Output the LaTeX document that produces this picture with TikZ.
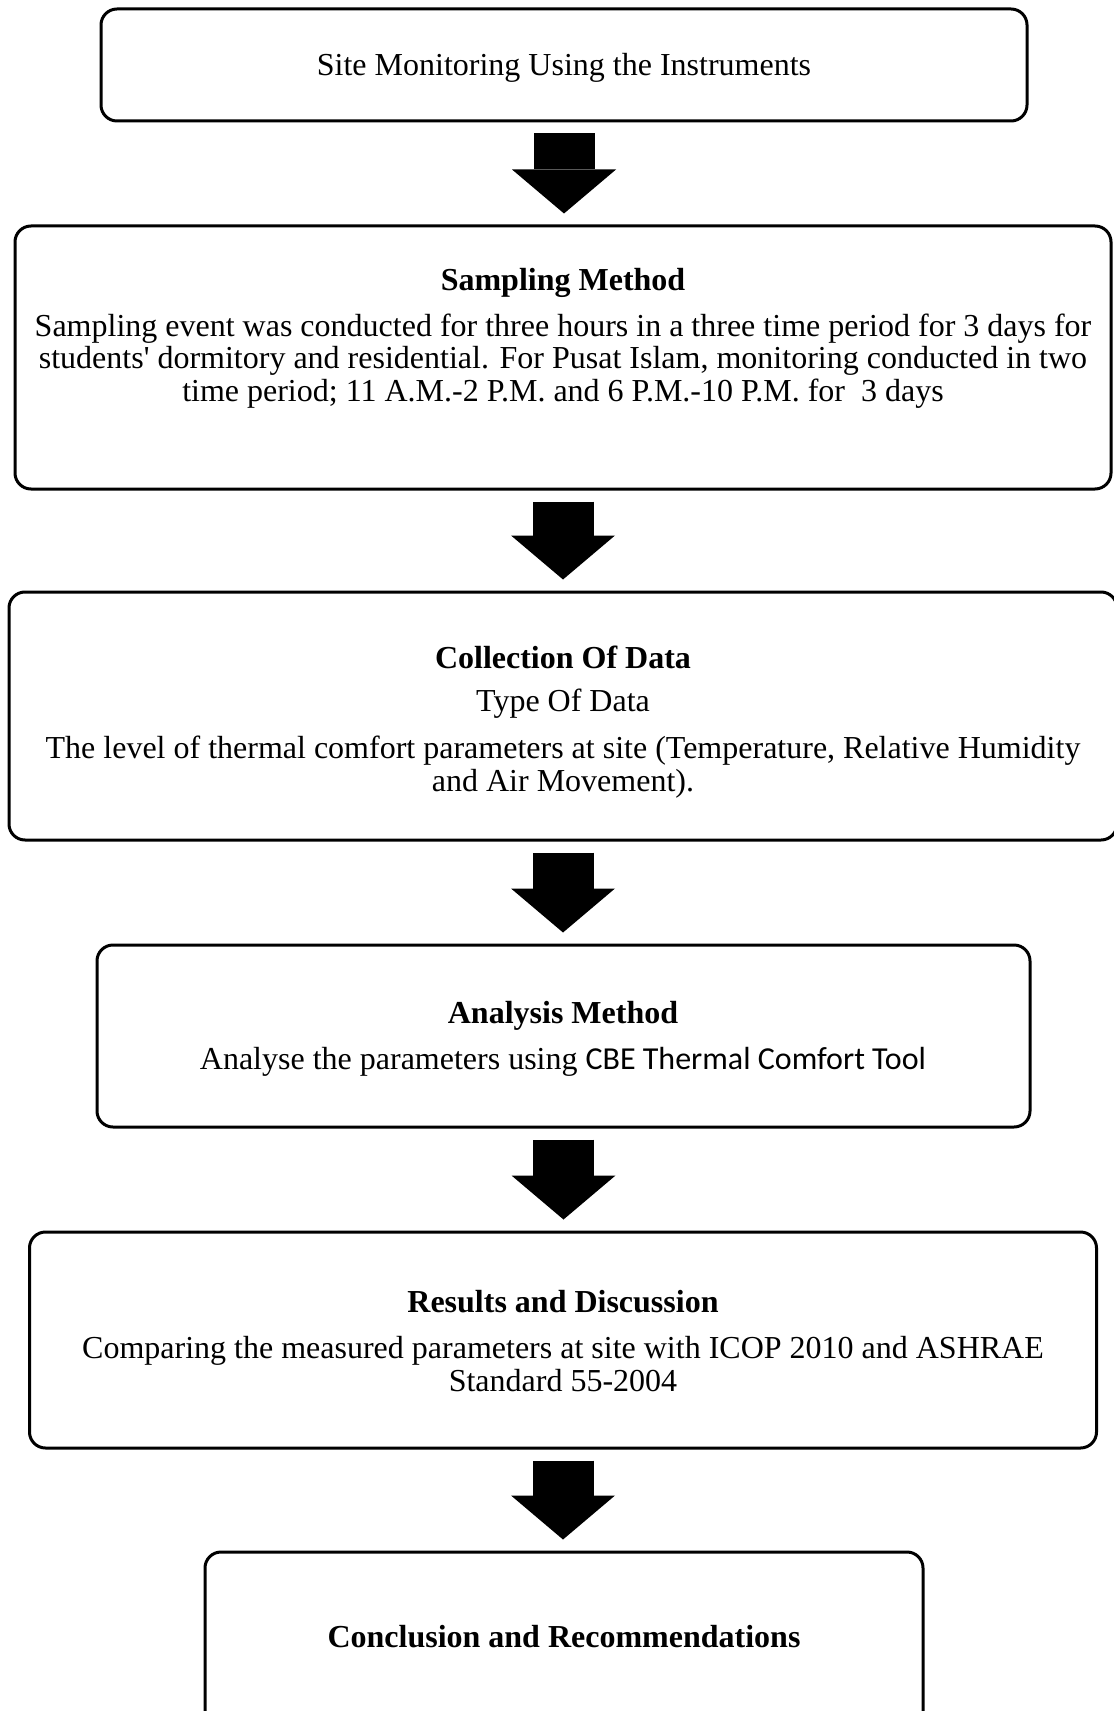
\documentclass[tikz,border=0pt]{standalone}
\usepackage{fontspec}
\setmainfont{Liberation Serif}
\newfontfamily\calib{Carlito}
\usetikzlibrary{arrows.meta}
\begin{document}
\begin{tikzpicture}[x=0.5pt,y=-0.5pt,
 box/.style={draw, line width=1.5pt, rounded corners=8pt, inner sep=0pt},
 txt/.style={inner sep=0pt, align=center, font=\fontsize{16}{16.4}\selectfont},
 ttl/.style={inner sep=0pt, align=center, font=\fontsize{16}{16.4}\selectfont\bfseries},
 flow/.style={line width=30.5pt, -{Triangle[length=22pt 0 0,width=52pt 0 0,line width=0pt 0 0]}, shorten <=5.5pt, shorten >=5.5pt}]
\useasboundingbox[fill=white] (0,0) rectangle (1113,1711);
\node[box, minimum width=463pt, minimum height=56pt] (b1) at (564,65) {};
\node[box, minimum width=548pt, minimum height=131.5pt] (b2) at (563,357.5) {};
\node[box, minimum width=554pt, minimum height=124pt] (b3) at (563,716) {};
\node[box, minimum width=466.5pt, minimum height=91pt] (b4) at (563.5,1036) {};
\node[box, minimum width=533.5pt, minimum height=108pt] (b5) at (563,1340) {};
\node[box, minimum width=359pt, minimum height=89pt] (b6) at (564,1641) {};

\node[txt] (t1) at (564,68) {Site Monitoring Using the Instruments};
\node[ttl] (t2a) at (563,283) {Sampling Method};
\node[txt] (t2b) at (563,361) {Sampling event was conducted for three hours in a three time period for 3 days for\\ students\textquotesingle{} dormitory and residential. For Pusat Islam, monitoring conducted in two\\ time period; 11 A.M.-2 P.M. and 6 P.M.-10 P.M. for \ 3 days};
\node[ttl] (t3a) at (563,657) {Collection Of Data};
\node[txt] (t3b) at (563,703.5) {Type Of Data};
\node[txt] (t3c) at (563,767) {The level of thermal comfort parameters at site (Temperature, Relative Humidity\\ and Air Movement).};
\node[ttl] (t4a) at (563,1015.6) {Analysis Method};
\node[txt] (t4b) at (563,1061.5) {Analyse the parameters using {\calib CBE Thermal Comfort Tool}};
\node[ttl] (t5a) at (563,1301.6) {Results and Discussion};
\node[txt] (t5b) at (563,1364.4) {Comparing the measured parameters at site with ICOP 2010 and ASHRAE\\ Standard 55-2004};
\node[ttl] (t6) at (564,1636.6) {Conclusion and Recommendations};

\draw[flow] (b1.south) -- (b1.south |- b2.north);
\draw[flow] (b2.south) -- (b2.south |- b3.north);
\draw[flow] (b3.south) -- (b3.south |- b4.north);
\draw[flow] (b4.south) -- (b4.south |- b5.north);
\draw[flow] (b5.south) -- (b5.south |- b6.north);
\end{tikzpicture}
\end{document}
